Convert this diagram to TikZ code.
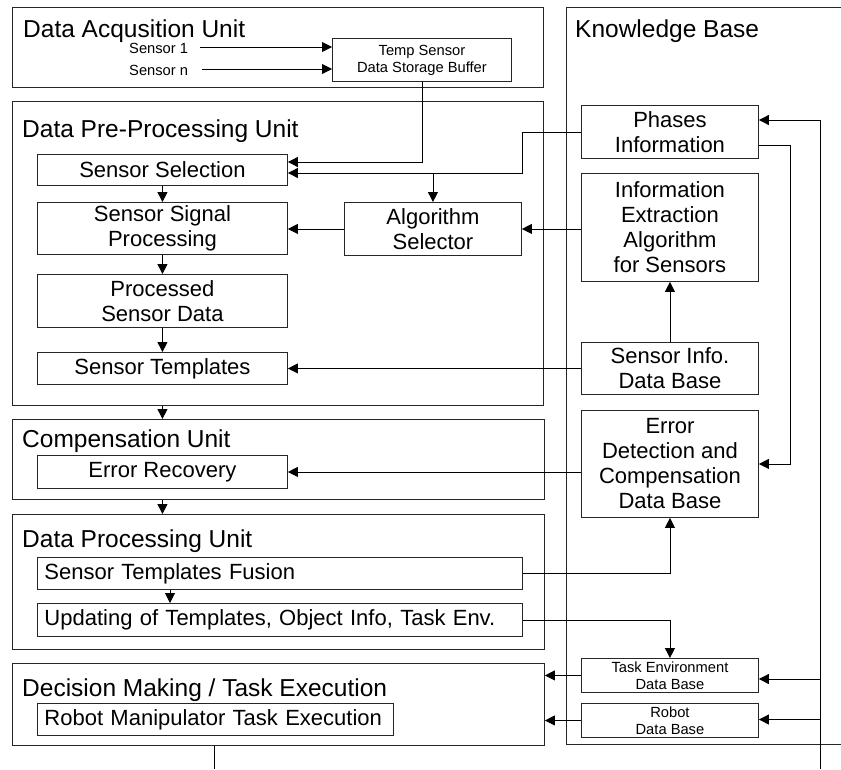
\documentclass[tikz,border=0pt]{standalone}
\usepackage{fontspec}
\setmainfont{Liberation Sans}
\usetikzlibrary{arrows.meta}
\tikzset{
  unit/.style={draw=black!85, line width=0.9pt, inner sep=0pt, anchor=north west},
  box/.style={draw=black!85, line width=0.9pt, inner sep=0pt, anchor=north west, align=center, font=\fontsize{22}{25}\selectfont},
  smallbox/.style={box, font=\fontsize{14.7}{17}\selectfont},
  lbox/.style={box, align=left, inner xsep=7pt},
  ttl/.style={anchor=base west, inner sep=0pt, font=\fontsize{24.5}{28}\selectfont},
  lbl/.style={anchor=base west, inner sep=0pt, font=\fontsize{14.7}{17}\selectfont},
  arr/.style={line width=0.9pt, -{Triangle[length=10pt,width=10pt]}},
  ln/.style={line width=0.9pt},
}
\begin{document}
\begin{tikzpicture}[x=1pt,y=-1pt]
\useasboundingbox (0,0) rectangle (841,769);
\clip (0,0) rectangle (841,769);
% outer units
\node[unit, minimum width=531pt, minimum height=80pt] (dau) at (12,7) {};
\node[unit, minimum width=531pt, minimum height=304pt] (dppu) at (12,101) {};
\node[unit, minimum width=532pt, minimum height=80pt] (comp) at (12,419) {};
\node[unit, minimum width=532pt, minimum height=135pt] (dpu) at (12,514) {};
\node[unit, minimum width=532pt, minimum height=82pt] (dmte) at (12,663) {};
\node[unit, minimum width=300pt, minimum height=737pt] (kb) at (566,7) {};
% titles
\node[ttl] (tdau) at (23,37) {Data Acqusition Unit};
\node[ttl] (tdppu) at (22,137) {Data Pre-Processing Unit};
\node[ttl] (tcomp) at (22,447) {Compensation Unit};
\node[ttl] (tdpu) at (22,547) {Data Processing Unit};
\node[ttl] (tdmte) at (22,696) {Decision Making / Task Execution};
\node[ttl] (tkb) at (575,37) {Knowledge Base};
% sensor labels
\node[lbl] (s1) at (129,53) {Sensor 1};
\node[lbl] (sn) at (129,75) {Sensor n};
\coordinate (s1o) at (200,47);
\coordinate (sno) at (202,69);
% inner boxes
\node[smallbox, minimum width=179pt, minimum height=43pt] (temp) at (332,38) {Temp Sensor\\Data Storage Buffer};
\node[box, minimum width=250pt, minimum height=31pt] (sel) at (37,154) {Sensor Selection};
\node[box, minimum width=250pt, minimum height=52pt] (ssp) at (37,202) {Sensor Signal\\Processing};
\node[box, minimum width=177pt, minimum height=53pt] (alg) at (344,202) {Algorithm\\Selector};
\node[box, minimum width=250pt, minimum height=53pt] (psd) at (37,274) {Processed\\Sensor Data};
\node[box, minimum width=250pt, minimum height=32pt] (stpl) at (37,352) {Sensor Templates};
\node[box, minimum width=250pt, minimum height=33pt] (err) at (37,455) {Error Recovery};
\node[lbox, text width=471pt, minimum height=32pt] (fus) at (37,557) {Sensor Templates Fusion};
\node[lbox, text width=471pt, minimum height=33pt] (upd) at (37,603) {Updating of Templates, Object Info, Task Env.};
\node[lbox, text width=342pt, minimum height=32pt] (rob) at (37,703) {Robot Manipulator Task Execution};
\node[box, minimum width=177pt, minimum height=53pt] (phases) at (581,105) {Phases\\Information};
\node[box, minimum width=177pt, minimum height=108pt] (iea) at (581,173) {Information\\Extraction\\Algorithm\\for Sensors};
\node[box, minimum width=177pt, minimum height=52pt] (sidb) at (581,342) {Sensor Info.\\Data Base};
\node[box, minimum width=177pt, minimum height=107pt] (edc) at (581,410) {Error\\Detection and\\Compensation\\Data Base};
\node[smallbox, minimum width=177pt, minimum height=34pt] (tedb) at (581,658) {Task Environment\\Data Base};
\node[smallbox, minimum width=177pt, minimum height=34pt] (rdb) at (581,703) {Robot\\Data Base};
\coordinate (trunkbot) at (820,769);
\coordinate (outbot) at (214,769);
% connectors
\draw[arr] (s1o) -- (temp.west |- s1o);
\draw[arr] (sno) -- (temp.west |- sno);
\draw[arr] (temp.south) -- (temp.south |- 0,162) -- (sel.east |- 0,162);
\draw[arr] (phases.west |- 0,132) -- (522,132) -- (522,173) -- (sel.east |- 0,173);
\draw[arr] (alg.north |- 0,173) -- (alg.north);
\draw[arr] (iea.west |- alg.east) -- (alg.east);
\draw[arr] (alg.west) -- (ssp.east |- alg.west);
\draw[arr] (sel.south) -- (ssp.north);
\draw[arr] (ssp.south) -- (psd.north);
\draw[arr] (psd.south) -- (stpl.north);
\draw[arr] (sel.south |- dppu.south) -- (sel.south |- comp.north);
\draw[arr] (sel.south |- comp.south) -- (sel.south |- dpu.north);
\draw[arr] (fus.south -| 170,0) -- (upd.north -| 170,0);
\draw[arr] (sidb.west |- stpl.east) -- (stpl.east);
\draw[arr] (sidb.north) -- (iea.south);
\draw[arr] (edc.west |- err.east) -- (err.east);
\draw[arr] (phases.east |- 0,145) -- (790,145) -- (edc.east -| 790,0) -- (edc.east);
\draw[arr] (trunkbot) -- (820,120) -- (phases.east |- 0,120);
\draw[arr] (820,679) -- (tedb.east |- 0,679);
\draw[arr] (820,719.5) -- (rdb.east |- 0,719.5);
\draw[arr] (fus.east) -| (edc.south);
\draw[arr] (upd.east) -| (tedb.north);
\draw[arr] (tedb.west) -- (dmte.east |- tedb.west);
\draw[arr] (rdb.west) -- (dmte.east |- rdb.west);
\draw[ln] (dmte.south -| outbot) -- (outbot);
\end{tikzpicture}
\end{document}
